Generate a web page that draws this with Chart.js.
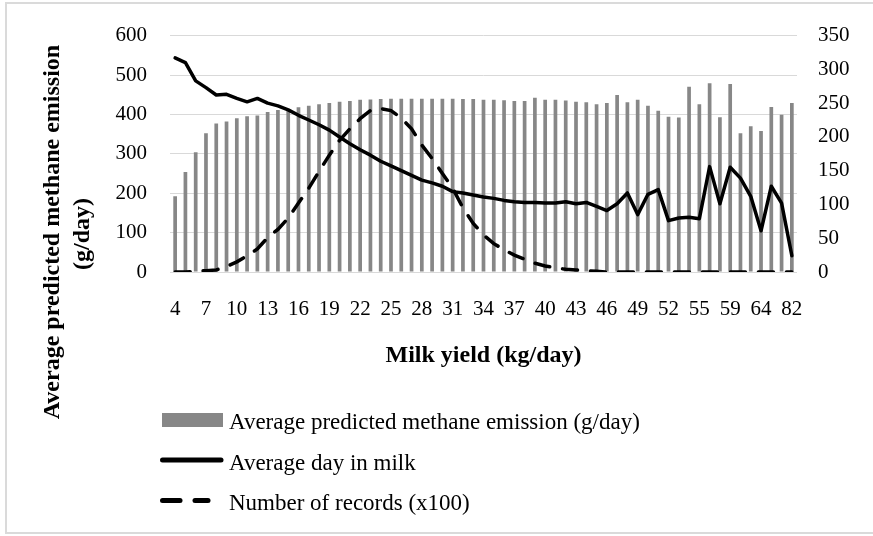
<!DOCTYPE html>
<html><head><meta charset="utf-8">
<script src="https://cdn.jsdelivr.net/npm/chart.js@4/dist/chart.umd.min.js"></script>
<style>
html,body{margin:0;padding:0;background:#fff;}
#wrap{position:relative;width:873px;height:536px;overflow:hidden;background:#fff;}
#frame{position:absolute;left:5px;top:2px;width:900px;height:532px;border:2px solid #dadada;box-sizing:border-box;}
canvas{position:absolute;left:0;top:0;}
</style></head><body>
<div id="wrap"><div id="frame"></div><canvas id="c" width="873" height="536"></canvas></div>
<script>
const milkYield = [4,5,6,7,8,9,10,11,12,13,14,15,16,17,18,19,20,21,22,23,24,25,26,27,28,29,30,31,32,33,34,35,36,37,38,39,40,41,42,43,44,45,46,47,48,49,50,51,52,53,54,55,56,57,59,60,62,64,66,70,82];
const methane = [192,254,304,352,377,382,390,395,397,406,411,414,418,422,426,429,432,434,437,438,439,440,440,440,440,440,440,440,439,439,
  437,437,436,434,434,442,437,437,435,432,431,426,429,449,431,437,422,409,394,392,470,426,479,393,477,352,370,358,419,399,429];
const daysInMilk = [317,310,283,273,262,263,257,252,257,250,246,240,232,225,218,210,200,190,181,173,164,157,150,143,136,132,127,119,117,114,
  111,109,106,104,103,103,102,102,104,101,103,97,91,101,117,85,115,122,76,80,81,79,156,101,155,139,112,61,127,102,24];
const records = [0,0,1,2,3,8,15,24,34,51,63,80,102,124,149,173,195,212,227,239,242,239,228,212,188,168,146,124,95,72,
  55,42,33,25,19,13,9,6,4,3,2,1,0,0,0,0,0,0,0,0,0,0,0,0,0,0,0,0,0,0,0];
const seriesNames = ['Average predicted methane emission (g/day)','Average day in milk','Number of records (x100)'];
const xTitle = 'Milk yield (kg/day)';
const yTitleLines = ['Average predicted methane emission','(g/day)'];

const FF = '"Liberation Serif","Times New Roman",serif';
const tickFont = {family: FF, size: 21};

const decor = {
  id: 'decor',
  afterDraw(chart) {
    const ctx = chart.ctx;
    ctx.save();
    ctx.fillStyle = '#000';
    // y title (rotated)
    ctx.font = 'bold 24px ' + FF;
    ctx.textAlign = 'center';
    ctx.textBaseline = 'middle';
    ctx.save(); ctx.translate(53, 232); ctx.rotate(-Math.PI/2); ctx.fillText(yTitleLines[0], 0, 0); ctx.restore();
    ctx.save(); ctx.translate(83, 234); ctx.rotate(-Math.PI/2); ctx.fillText(yTitleLines[1], 0, 0); ctx.restore();
    // x title
    const ca = chart.chartArea;
    ctx.textBaseline = 'alphabetic';
    ctx.fillText(xTitle, (ca.left + ca.right) / 2, 362);
    // legend
    ctx.textAlign = 'left';
    ctx.font = '23px ' + FF;
    ctx.fillStyle = '#878787';
    ctx.fillRect(162, 413, 61, 14);
    ctx.fillStyle = '#000';
    ctx.fillText(seriesNames[0], 229, 429);
    ctx.strokeStyle = '#000';
    ctx.lineWidth = 5;
    ctx.lineCap = 'round';
    ctx.beginPath(); ctx.moveTo(162.5, 460); ctx.lineTo(221, 460); ctx.stroke();
    ctx.fillText(seriesNames[1], 229, 470);
    ctx.beginPath(); ctx.moveTo(162.5, 500.5); ctx.lineTo(180, 500.5); ctx.stroke();
    ctx.beginPath(); ctx.moveTo(195, 500.5); ctx.lineTo(208, 500.5); ctx.stroke();
    ctx.fillText(seriesNames[2], 229, 510);
    ctx.restore();
  }
};

new Chart(document.getElementById('c'), {
  data: {
    labels: milkYield,
    datasets: [
      {type: 'line', label: seriesNames[1], data: daysInMilk, yAxisID: 'y1', borderColor: '#000', borderWidth: 3.5, pointRadius: 0, tension: 0, order: 1, borderJoinStyle: 'round', borderCapStyle: 'round'},
      {type: 'line', label: seriesNames[2], data: records, yAxisID: 'y1', borderColor: '#000', borderWidth: 3.5, borderDash: [15, 13], borderCapStyle: 'round', pointRadius: 0, tension: 0, order: 2},
      {type: 'bar', label: seriesNames[0], data: methane, yAxisID: 'y', backgroundColor: '#878787', categoryPercentage: 1, barPercentage: 0.36, order: 3}
    ]
  },
  options: {
    responsive: false,
    animation: false,
    layout: {padding: {top: 32, left: 0, right: 0, bottom: 0}},
    plugins: {legend: {display: false}, tooltip: {enabled: false}},
    scales: {
      x: {
        grid: {display: false, drawTicks: false},
        border: {display: false},
        ticks: {autoSkip: false, maxRotation: 0, minRotation: 0, padding: 25, font: tickFont, color: '#000',
          callback: (v, i) => (i % 3 === 0 ? String(milkYield[i]) : '')},
        afterFit: s => { s.height = 264; }
      },
      y: {
        position: 'left', min: 0, max: 600,
        ticks: {stepSize: 100, padding: 23, font: tickFont, color: '#000'},
        grid: {color: '#d9d9d9', drawTicks: false, lineWidth: 1},
        border: {display: false},
        afterFit: s => { s.width = 170; }
      },
      y1: {
        position: 'right', min: 0, max: 350,
        ticks: {stepSize: 50, padding: 21, font: tickFont, color: '#000'},
        grid: {display: false, drawTicks: false},
        border: {display: false},
        afterFit: s => { s.width = 76; }
      }
    }
  },
  plugins: [decor]
});
</script>
</body></html>
